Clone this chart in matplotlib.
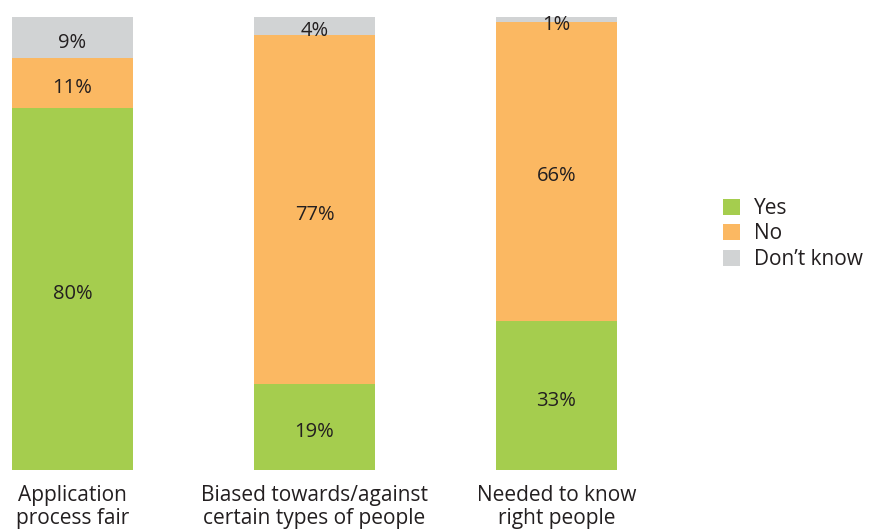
import matplotlib
matplotlib.use("Agg")
import matplotlib.pyplot as plt

categories = ["Application\nprocess fair",
              "Biased towards/against\ncertain types of people",
              "Needed to know\nright people"]
yes = [80, 19, 33]
no = [11, 77, 66]
dont_know = [9, 4, 1]

series = [("Yes", yes, "#A5CD4E"), ("No", no, "#FBB862"), ("Don\u2019t know", dont_know, "#D1D3D4")]
TEXT = "#231F20"

plt.rcParams["font.family"] = ["Open Sans", "DejaVu Sans"]

fig = plt.figure(figsize=(8.78, 5.32), dpi=100)
ax = fig.add_axes([12 / 878, 62 / 532, 605 / 878, 453 / 532])

x = range(len(categories))
bottom = [0] * len(categories)
for name, vals, color in series:
    ax.bar(x, vals, width=0.5, bottom=bottom, color=color, label=name)
    for i, v in enumerate(vals):
        ax.annotate(f"{v}%", (i, bottom[i] + v / 2), xytext=(0, -2),
                    textcoords="offset points", ha="center", va="center_baseline",
                    fontsize=14.5, color=TEXT)
    bottom = [b + v for b, v in zip(bottom, vals)]

ax.set_xlim(-0.25, 2.25)
ax.set_ylim(0, 100)
ax.set_xticks(list(x))
ax.set_xticklabels(categories, fontsize=15, color=TEXT, linespacing=1.12)
ax.tick_params(axis="x", length=0, pad=11)
ax.set_yticks([])
for s in ax.spines.values():
    s.set_visible(False)

fig.legend(loc="center left", bbox_to_anchor=(704 / 878, 1 - 234 / 532),
           frameon=False, fontsize=15, handlelength=0.82, handleheight=0.82,
           handletextpad=0.67, labelspacing=0.22, labelcolor=TEXT)

fig.savefig("out.png", dpi=100)
